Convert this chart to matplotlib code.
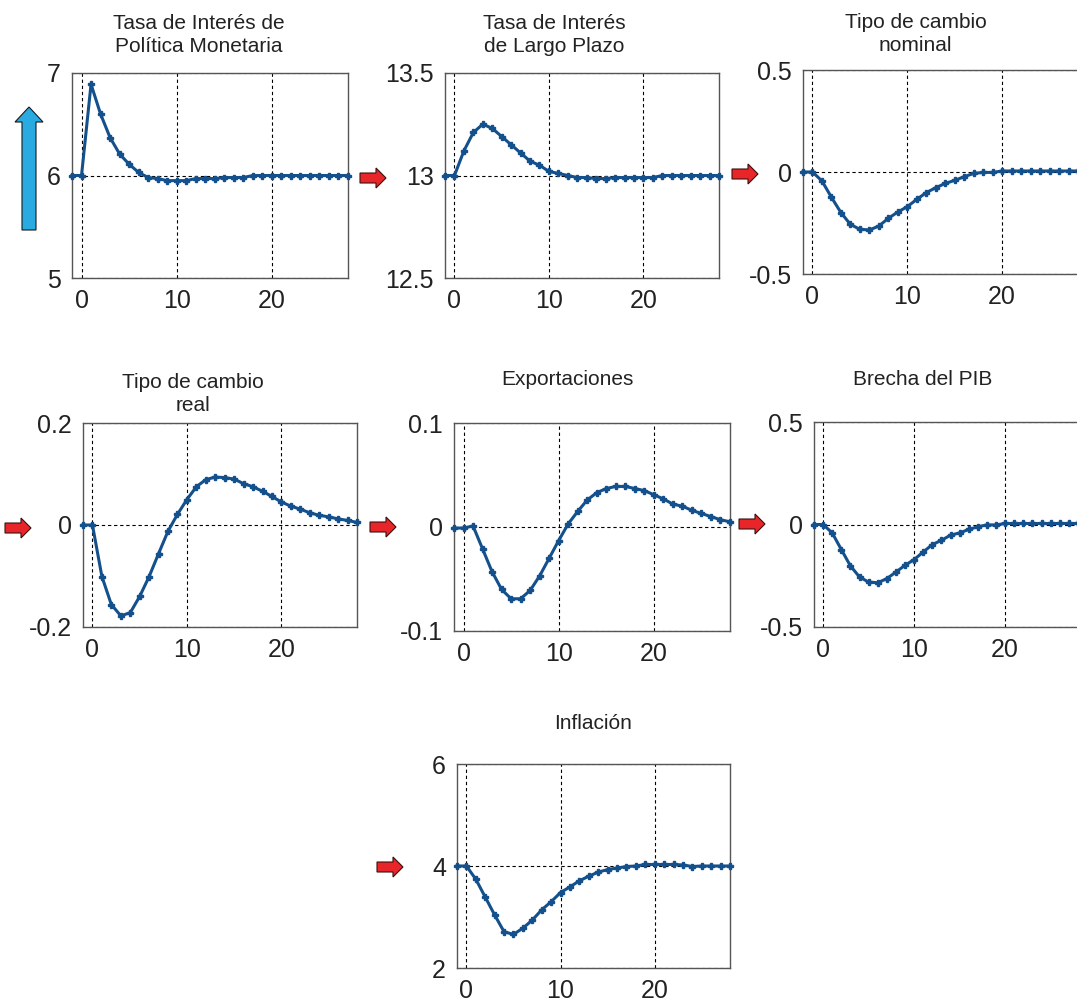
import numpy as np
import matplotlib
matplotlib.use("Agg")
import matplotlib.pyplot as plt
from matplotlib.patches import Polygon

plt.rcParams["font.family"] = ["Liberation Sans", "DejaVu Sans"]

W, H = 1077, 1008

# Horizon (quarters)
periods = np.arange(-1, 29)

# Impulse responses
tpm = [6.0, 6.0, 6.89, 6.60, 6.37, 6.21, 6.11, 6.03, 5.98, 5.97, 5.95, 5.95,
       5.95, 5.97, 5.97, 5.97, 5.98, 5.98, 5.98, 6.0, 6.0, 6.0, 6.0, 6.0,
       6.0, 6.0, 6.0, 6.0, 6.0, 6.0]
tasa_lp = [13.0, 13.0, 13.12, 13.21, 13.25, 13.23, 13.19, 13.15, 13.11, 13.07,
           13.05, 13.02, 13.01, 13.0, 12.99, 12.99, 12.985, 12.985, 12.99, 12.99,
           12.99, 12.99, 12.99, 13.0, 13.0, 13.0, 13.0, 13.0, 13.0, 13.0]
tc_nominal = [0.0, 0.0, -0.044, -0.124, -0.199, -0.257, -0.281, -0.284, -0.265,
              -0.227, -0.196, -0.170, -0.134, -0.101, -0.077, -0.056, -0.041,
              -0.023, -0.007, -0.002, -0.002, 0.005, 0.005, 0.005, 0.005, 0.005,
              0.005, 0.005, 0.005, 0.005]
tc_real = [0.0, 0.0, -0.101, -0.156, -0.178, -0.172, -0.140, -0.101, -0.056,
           -0.012, 0.021, 0.050, 0.075, 0.089, 0.094, 0.093, 0.090, 0.081, 0.075,
           0.066, 0.056, 0.045, 0.037, 0.031, 0.024, 0.019, 0.016, 0.012, 0.009,
           0.005]
exportaciones = [-0.001, -0.001, 0.001, -0.021, -0.043, -0.060, -0.069, -0.069,
                 -0.061, -0.047, -0.030, -0.013, 0.003, 0.015, 0.026, 0.033,
                 0.037, 0.039, 0.039, 0.037, 0.035, 0.031, 0.027, 0.022, 0.020,
                 0.016, 0.013, 0.010, 0.007, 0.005]
brecha_pib = [0.0, 0.0, -0.041, -0.122, -0.202, -0.256, -0.281, -0.284, -0.264,
              -0.232, -0.199, -0.171, -0.134, -0.098, -0.077, -0.052, -0.041,
              -0.024, -0.011, -0.002, -0.002, 0.005, 0.005, 0.005, 0.005, 0.005,
              0.005, 0.005, 0.005, 0.005]
inflacion = [4.0, 4.0, 3.74, 3.39, 3.04, 2.71, 2.66, 2.78, 2.94, 3.14, 3.30,
             3.48, 3.59, 3.71, 3.80, 3.88, 3.93, 3.96, 3.99, 4.0, 4.03, 4.03,
             4.03, 4.03, 4.02, 3.99, 4.0, 4.0, 4.0, 4.0]

titles = ["Tasa de Interés de\nPolítica Monetaria",
          "Tasa de Interés\nde Largo Plazo",
          "Tipo de cambio\nnominal",
          "Tipo de cambio\nreal",
          "Exportaciones\n ",
          "Brecha del PIB\n ",
          "Inflación\n "]
series = [tpm, tasa_lp, tc_nominal, tc_real, exportaciones, brecha_pib, inflacion]
yticks = [[5, 6, 7], [12.5, 13, 13.5], [-0.5, 0, 0.5], [-0.2, 0, 0.2],
          [-0.1, 0, 0.1], [-0.5, 0, 0.5], [2, 4, 6]]
ytick_labels = [["5", "6", "7"], ["12.5", "13", "13.5"], ["-0.5", "0", "0.5"],
                ["-0.2", "0", "0.2"], ["-0.1", "0", "0.1"], ["-0.5", "0", "0.5"],
                ["2", "4", "6"]]

# axes boxes in pixels: left, top, right, bottom
boxes = [(72, 73, 348, 278), (445, 73, 719, 278), (803, 70, 1078, 274),
         (83, 423, 357, 627), (454, 423, 730, 631), (814, 422, 1078, 627),
         (457, 764, 730, 968)]
title_x = [0.46, 0.40, 0.41, 0.40, 0.41, 0.41, 0.50]
title_pad = [15, 15, 14, 9, 11, 10, 9]

LINE_COLOR = "#14508c"

fig = plt.figure(figsize=(W / 100, H / 100), dpi=100)

for i, (ys, box) in enumerate(zip(series, boxes)):
    l, t, r, b = box
    ax = fig.add_axes([l / W, 1 - b / H, (r - l) / W, (b - t) / H])
    ax.plot(periods, ys, "-", color=LINE_COLOR, lw=2.2, marker="P", ms=5,
            mec=LINE_COLOR, mfc=LINE_COLOR, zorder=3, clip_on=False)
    ax.set_xlim(-1, 28)
    ax.set_ylim(yticks[i][0], yticks[i][-1])
    ax.set_xticks([0, 10, 20])
    ax.set_yticks(yticks[i])
    ax.set_yticklabels(ytick_labels[i])
    ax.tick_params(length=0, labelsize=18, pad=8, colors="#222222")
    ax.grid(True, linestyle=(0, (3, 2.5)), color="black", lw=0.8)
    for s in ax.spines.values():
        s.set_color("#555555")
        s.set_linewidth(1.0)
    ax.set_title(titles[i], x=title_x[i], pad=title_pad[i], fontsize=15,
                 color="#222222", linespacing=1.25)


def to_fig(pts):
    return [(x / W, 1 - y / H) for x, y in pts]


def red_arrow(x0, yc, length=26, head=10, shaft=10, head_h=20):
    pts = [(x0, yc - shaft / 2), (x0 + length - head, yc - shaft / 2),
           (x0 + length - head, yc - head_h / 2), (x0 + length, yc),
           (x0 + length - head, yc + head_h / 2), (x0 + length - head, yc + shaft / 2),
           (x0, yc + shaft / 2)]
    fig.add_artist(Polygon(to_fig(pts), closed=True, facecolor="#e8262a",
                           edgecolor="#3a1010", lw=0.8, transform=fig.transFigure))


for x0, yc in [(360, 178), (732, 174), (5, 528), (370, 527), (739, 524), (377, 867)]:
    red_arrow(x0, yc)

# blue up arrow next to the policy rate panel
bx, tip, base, bottom = 29, 107, 122, 230
blue = [(bx - 7, bottom), (bx - 7, base), (bx - 14, base), (bx, tip),
        (bx + 14, base), (bx + 7, base), (bx + 7, bottom)]
fig.add_artist(Polygon(to_fig(blue), closed=True, facecolor="#29abe2",
                       edgecolor="#1a1a1a", lw=0.8, transform=fig.transFigure))

fig.savefig("out.png", dpi=100)
